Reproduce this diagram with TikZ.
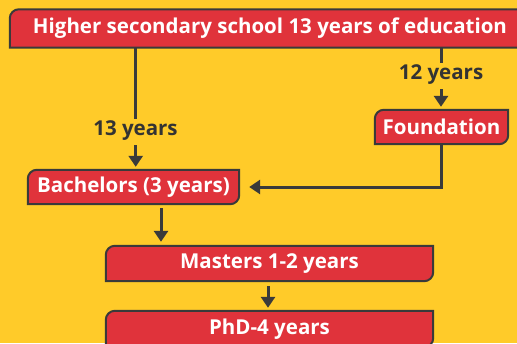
\documentclass[tikz,border=0pt]{standalone}
\usepackage{fontspec}
\setmainfont{Open Sans}
\usetikzlibrary{arrows.meta}
\definecolor{bgy}{HTML}{FFCB29}
\definecolor{boxred}{HTML}{E0333B}
\definecolor{edge}{HTML}{3A3A3A}
\definecolor{lbl}{HTML}{333333}
\pgfdeclarelayer{bglayer}
\pgfdeclarelayer{boxlayer}
\pgfsetlayers{bglayer,boxlayer,main}
\newcommand\rboxdraw[1]{%
  \begin{pgfonlayer}{boxlayer}
  \draw[boxline] (#1.south west) -- ([yshift=-9pt]#1.north west)
    arc[start angle=180,end angle=90,radius=9pt] -- (#1.north east)
    -- ([yshift=9pt]#1.south east)
    arc[start angle=0,end angle=-90,radius=9pt] -- cycle;
  \end{pgfonlayer}}
\begin{document}
\begin{tikzpicture}[x=1pt,y=-1pt,
  rbox/.style={inner sep=0pt,text=white,font=\bfseries\fontsize{20.5}{24}\selectfont},
  boxline/.style={fill=boxred,draw=edge,line width=2pt},
  yrs/.style={inner sep=2pt,text=lbl,font=\bfseries\fontsize{20.5}{24}\selectfont},
  conn/.style={draw=edge,line width=3pt},
  arr/.style={conn,-{Triangle[width=14pt,length=11pt]}}]
\begin{pgfonlayer}{bglayer}
\fill[bgy] (0,0) rectangle (517,343);
\end{pgfonlayer}
\useasboundingbox (0,0) rectangle (517,343);
\node[rbox,minimum width=520pt,minimum height=38pt] (hs) at (270,28.5) {Higher secondary school 13 years of education};
\rboxdraw{hs}
\node[rbox,minimum width=133pt,minimum height=34pt] (fd) at (441.5,127) {Foundation};
\rboxdraw{fd}
\node[rbox,minimum width=211pt,minimum height=34pt] (ba) at (133.5,187) {Bachelors (3 years)};
\rboxdraw{ba}
\node[rbox,minimum width=327pt,minimum height=35pt] (ms) at (269.5,263.5) {Masters 1-2 years};
\rboxdraw{ms}
\node[rbox,minimum width=327pt,minimum height=36pt] (phd) at (269.5,329) {PhD-4 years};
\rboxdraw{phd}
\node[yrs] (l13) at (135.5,131) {13 years};
\node[yrs] (l12) at (441,75) {12 years};
\draw[conn] (hs.south -| 135.7,0) -- (l13.north -| 135.7,0);
\draw[arr,shorten <=2pt,shorten >=3pt] (l13.south -| 135.7,0) -- (ba.north -| 135.7,0);
\draw[conn] (hs.south -| 441,0) -- (l12.north -| 441,0);
\draw[arr,shorten <=2pt,shorten >=3pt] (l12.south -| 441,0) -- (fd.north -| 441,0);
\draw[arr,shorten >=10pt] (fd.south -| 441,0) |- (ba.east);
\draw[arr,shorten <=4pt,shorten >=4pt] (ba.south -| 161,0) -- (ms.north -| 161,0);
\draw[arr,shorten <=5pt,shorten >=3pt] (ms.south -| 268,0) -- (phd.north -| 268,0);
\end{tikzpicture}
\end{document}
